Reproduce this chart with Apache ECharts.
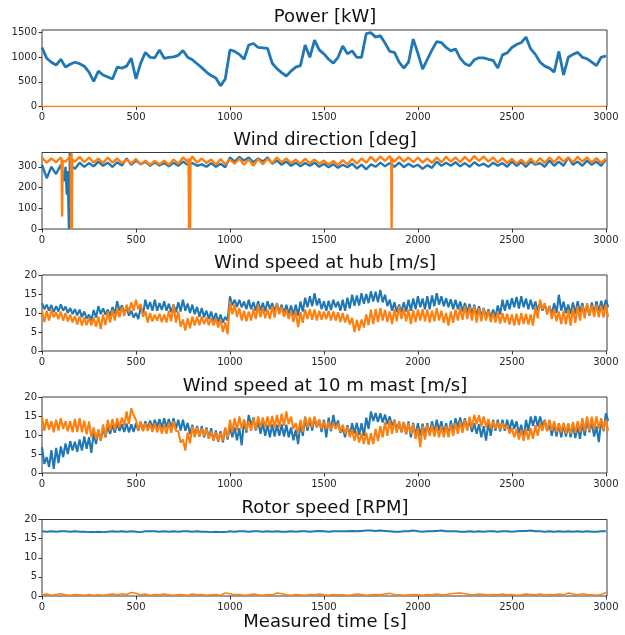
<!DOCTYPE html>
<html>
<head>
<meta charset="utf-8">
<script src="https://cdn.jsdelivr.net/npm/echarts@6/dist/echarts.min.js"></script>
<style>
html,body{margin:0;padding:0;background:#fff;}
#chart{width:625px;height:635px;}
</style>
</head>
<body>
<div id="chart"></div>
<script>
// ---------------- DATA ----------------
const STEP = 25;            // sampling step of the read-off series [s]
const HALF = STEP / 2;      // lower-edge readings sit half a step later
const time = Array.from({length: 121}, (_, i) => i * STEP);

const xTicks = [0, 500, 1000, 1500, 2000, 2500, 3000];
const titles = ['Power [kW]', 'Wind direction [deg]', 'Wind speed at hub [m/s]', 'Wind speed at 10 m mast [m/s]', 'Rotor speed [RPM]'];
const xLabel = 'Measured time [s]';
const yTicks = [[0, 500, 1000, 1500], [0, 100, 200, 300], [0, 5, 10, 15, 20], [0, 5, 10, 15, 20], [0, 5, 10, 15, 20]];
const yMax = [1555, 369, 20, 20, 20];

const powerBlue = [
 1200, 980, 900, 840, 960, 800, 860, 900,
 870, 820, 700, 510, 720, 640, 600, 560,
 800, 780, 820, 980, 560, 880, 1100, 1000,
 990, 1150, 980, 1000, 1010, 1040, 1140, 1000,
 950, 870, 790, 700, 630, 580, 420, 560,
 1150, 1120, 1060, 960, 1250, 1280, 1200, 1190,
 1180, 880, 770, 690, 620, 720, 800, 830,
 1250, 1000, 1350, 1150, 1070, 960, 880, 1000,
 1230, 1070, 1130, 1000, 1000, 1480, 1500, 1410,
 1440, 1290, 1120, 1100, 900, 780, 900, 1370,
 1080, 760, 960, 1150, 1320, 1300, 1200, 1130,
 1170, 980, 870, 830, 950, 990, 990, 960,
 940, 780, 1050, 1090, 1200, 1260, 1300, 1410,
 1170, 1060, 900, 820, 780, 700, 1120, 640,
 1000, 1060, 1100, 1000, 970, 900, 830, 1000,
 1030];
const powerOrangeT = [0, 3000];
const powerOrange = [0, 0];

const dirBlue = [
 310, 245, 300, 265, 310, 300, 300, 290,
 320, 300, 318, 302, 325, 305, 320, 300,
 322, 306, 340, 310, 330, 312, 325, 305,
 322, 306, 318, 302, 320, 305, 325, 310,
 318, 305, 312, 300, 318, 300, 315, 298,
 345, 325, 348, 330, 345, 322, 340, 325,
 345, 315, 330, 310, 325, 305, 320, 302,
 318, 305, 320, 300, 315, 298, 312, 295,
 310, 298, 315, 292, 310, 288, 312, 300,
 320, 302, 318, 300, 320, 298, 315, 300,
 310, 290, 308, 295, 325, 305, 320, 305,
 322, 302, 318, 300, 322, 305, 315, 300,
 320, 305, 318, 300, 325, 305, 322, 300,
 325, 310, 318, 300, 330, 305, 325, 305,
 345, 310, 325, 305, 330, 310, 325, 305,
 335];
const dirBlueExtraT = [120, 128, 132, 136, 140, 143, 146, 148, 151];
const dirBlueExtra  = [230, 300, 165, 280, 150, 10, 0, 368, 310];

const dirOrange = [
 345, 320, 340, 322, 345, 325, 350, 325,
 348, 322, 345, 320, 340, 318, 345, 320,
 340, 318, 335, 315, 338, 312, 330, 310,
 328, 312, 330, 310, 335, 315, 345, 325,
 350, 320, 340, 318, 335, 310, 338, 312,
 335, 315, 340, 310, 335, 305, 338, 312,
 340, 318, 345, 322, 340, 318, 335, 315,
 338, 318, 335, 315, 330, 310, 328, 308,
 332, 312, 338, 315, 340, 320, 348, 325,
 350, 328, 352, 325, 350, 325, 345, 322,
 345, 320, 340, 318, 345, 322, 348, 325,
 345, 322, 348, 325, 352, 328, 350, 325,
 345, 320, 342, 318, 338, 315, 335, 312,
 340, 315, 342, 318, 345, 322, 348, 325,
 345, 322, 348, 325, 345, 320, 342, 318,
 340];
const dirOrangeExtraT = [104, 107, 110, 153, 155, 157, 159, 161, 780, 782, 785, 788, 790, 1858, 1860, 1862];
const dirOrangeExtra  = [335, 60, 330, 340, 0, 368, 0, 335, 340, 0, 340, 0, 335, 340, 0, 340];

// wind speed at hub: upper / lower edge of the noisy trace
const hubBlueUp = [
 12.6, 12.2, 12.1, 11.8, 12.3, 11.7, 11.3, 11.0,
 10.9, 10.4, 9.6, 10.8, 11.8, 11.2, 10.9, 11.6,
 13.1, 12.0, 11.3, 10.6, 10.0, 11.5, 13.5, 12.9,
 13.5, 12.6, 13.1, 12.4, 12.2, 12.8, 13.5, 12.5,
 12.2, 11.6, 11.3, 10.6, 10.4, 10.0, 9.6, 9.0,
 14.4, 13.5, 13.5, 13.0, 13.5, 12.9, 13.1, 12.7,
 13.1, 12.6, 12.6, 12.2, 12.2, 12.0, 12.2, 13.0,
 14.0, 14.4, 15.2, 13.8, 13.1, 13.2, 13.5, 13.0,
 13.5, 14.0, 14.8, 14.6, 15.2, 15.0, 15.7, 15.6,
 16.1, 14.8, 13.5, 12.8, 12.2, 12.8, 13.5, 13.8,
 14.4, 13.8, 14.4, 14.6, 15.2, 14.4, 13.9, 13.6,
 13.5, 13.0, 12.6, 12.4, 12.2, 11.8, 11.3, 11.0,
 10.9, 12.0, 13.5, 13.4, 13.9, 14.2, 14.4, 13.8,
 13.5, 13.0, 12.6, 12.2, 11.8, 12.6, 14.8, 13.0,
 12.2, 12.8, 13.1, 12.6, 12.2, 12.8, 13.1, 13.2,
 13.5];
const hubBlueLo = [
 11.0, 10.6, 10.2, 10.4, 10.6, 10.0, 9.7, 9.4,
 8.9, 8.5, 8.0, 8.8, 9.7, 9.6, 9.3, 9.8,
 10.6, 10.0, 9.3, 8.8, 8.4, 9.6, 11.0, 10.6,
 10.6, 10.8, 10.6, 10.2, 10.2, 10.4, 10.6, 10.0,
 9.7, 9.0, 8.9, 8.4, 8.0, 7.6, 7.5, 8.0,
 12.0, 11.6, 11.5, 11.0, 11.0, 10.6, 10.6, 10.4,
 11.0, 10.4, 10.2, 9.8, 9.7, 9.4, 9.3, 10.4,
 11.5, 11.8, 12.0, 11.0, 10.6, 10.8, 11.5, 10.6,
 10.6, 11.2, 11.9, 12.0, 12.4, 12.6, 13.0, 12.8,
 12.8, 11.8, 10.6, 10.2, 10.2, 10.4, 10.6, 11.0,
 11.5, 11.0, 11.0, 11.8, 12.2, 11.8, 11.5, 11.0,
 11.0, 10.4, 10.2, 9.6, 9.3, 9.0, 8.9, 8.8,
 8.9, 9.6, 10.6, 11.0, 11.5, 11.2, 11.5, 11.0,
 11.0, 10.6, 10.6, 10.0, 9.7, 10.0, 10.6, 10.0,
 9.7, 9.8, 10.2, 9.6, 9.3, 9.8, 10.2, 10.8,
 11.5];
const hubOrangeUp = [
 10.8, 10.6, 10.9, 10.2, 10.4, 10.0, 9.6, 9.2,
 9.1, 8.8, 8.7, 8.8, 9.1, 9.6, 10.4, 10.8,
 11.3, 11.6, 12.2, 12.8, 13.5, 12.4, 10.4, 10.0,
 9.6, 9.8, 9.6, 10.6, 12.2, 10.4, 8.3, 8.6,
 9.1, 9.0, 9.1, 8.8, 8.7, 8.6, 8.3, 7.6,
 13.1, 12.2, 11.3, 10.6, 10.4, 11.2, 12.2, 11.4,
 10.9, 11.8, 12.6, 11.6, 10.9, 10.6, 10.4, 10.2,
 10.9, 11.0, 10.9, 10.6, 10.4, 10.6, 10.4, 10.2,
 10.0, 9.6, 8.7, 8.2, 8.3, 9.6, 10.9, 11.0,
 11.3, 10.8, 10.4, 11.0, 11.8, 11.2, 10.9, 10.8,
 10.9, 11.0, 10.9, 10.6, 11.3, 10.6, 10.0, 10.4,
 10.9, 11.4, 11.8, 11.6, 11.8, 11.2, 11.3, 10.6,
 10.0, 10.2, 10.0, 9.8, 9.6, 9.8, 10.0, 9.8,
 9.6, 11.6, 13.5, 12.6, 11.8, 11.0, 10.4, 10.6,
 10.9, 11.4, 11.8, 12.0, 12.6, 12.0, 12.2, 12.0,
 12.2];
const hubOrangeLo = [
 7.6, 8.0, 8.9, 8.4, 8.0, 7.8, 7.5, 7.0,
 6.7, 6.8, 6.7, 6.4, 5.8, 6.8, 7.5, 8.0,
 8.9, 9.2, 10.2, 10.6, 11.0, 9.0, 7.5, 7.8,
 8.0, 7.6, 7.5, 7.8, 7.5, 6.4, 5.4, 6.0,
 6.7, 6.8, 7.1, 6.8, 6.7, 6.2, 5.0, 4.4,
 9.7, 9.0, 8.0, 7.8, 8.0, 8.4, 8.9, 8.6,
 8.4, 8.8, 9.7, 9.0, 8.4, 7.6, 6.3, 7.4,
 8.4, 8.2, 8.0, 8.2, 8.4, 8.0, 8.0, 7.6,
 7.5, 7.0, 5.0, 5.4, 6.2, 6.8, 7.1, 7.6,
 8.0, 7.6, 7.1, 7.8, 8.4, 7.8, 7.1, 7.6,
 8.0, 7.8, 7.5, 7.8, 8.0, 7.4, 6.7, 7.4,
 8.0, 8.2, 8.4, 8.0, 7.5, 7.8, 8.0, 7.6,
 7.5, 7.2, 7.5, 7.0, 6.7, 6.8, 7.1, 7.0,
 6.7, 8.6, 11.0, 9.6, 8.4, 7.8, 7.1, 7.0,
 6.7, 7.4, 8.0, 8.6, 9.3, 9.0, 8.9, 8.8,
 8.9];

// wind speed at 10 m mast: upper / lower edge of the noisy trace
const mastBlueUp = [
 6.8, 4.2, 6.0, 6.6, 7.0, 7.8, 8.4, 8.2,
 8.8, 9.6, 9.4, 10.6, 11.4, 11.8, 12.3, 12.6,
 13.1, 12.8, 13.0, 12.8, 13.1, 13.4, 13.6, 13.8,
 14.0, 14.2, 14.4, 14.2, 14.4, 14.0, 14.0, 13.2,
 12.7, 12.4, 12.3, 12.0, 11.8, 11.2, 11.0, 11.8,
 12.3, 12.0, 11.8, 14.0, 15.3, 14.6, 13.6, 13.2,
 12.7, 12.8, 12.7, 12.8, 12.7, 12.0, 11.4, 13.0,
 14.4, 14.2, 14.4, 14.0, 14.0, 14.6, 15.3, 13.8,
 11.8, 12.6, 13.1, 13.2, 13.1, 14.6, 16.2, 15.8,
 15.7, 15.4, 14.9, 14.0, 13.1, 13.4, 13.6, 13.2,
 13.1, 13.0, 13.1, 13.6, 14.0, 13.6, 13.1, 13.8,
 14.4, 14.6, 14.4, 13.8, 13.1, 12.8, 12.3, 13.2,
 14.0, 14.0, 14.0, 14.0, 14.0, 13.6, 12.7, 14.0,
 14.9, 15.0, 14.9, 14.0, 12.7, 13.0, 13.1, 12.8,
 12.7, 12.6, 12.3, 13.2, 14.0, 13.4, 12.3, 14.0,
 15.7];
const mastBlueLo = [
 2.4, 1.6, 1.1, 2.6, 4.2, 5.0, 5.9, 5.6,
 5.9, 6.4, 5.3, 7.6, 8.5, 9.4, 10.3, 10.6,
 11.1, 10.8, 10.7, 10.8, 11.1, 11.2, 11.6, 11.8,
 12.0, 11.8, 12.0, 11.8, 11.6, 11.2, 11.1, 10.2,
 9.8, 9.6, 9.4, 9.0, 8.5, 8.2, 8.1, 8.8,
 9.4, 8.6, 7.3, 10.6, 12.4, 11.2, 10.3, 9.8,
 9.4, 9.6, 9.8, 9.6, 9.4, 8.6, 7.6, 9.8,
 11.1, 11.2, 12.0, 10.8, 9.4, 11.0, 12.0, 10.6,
 9.4, 9.8, 10.3, 10.0, 9.8, 11.6, 13.7, 13.4,
 13.3, 12.8, 12.4, 11.4, 10.7, 10.2, 9.4, 9.8,
 9.8, 9.8, 10.3, 10.6, 11.1, 10.4, 9.8, 10.6,
 12.0, 11.8, 11.6, 10.8, 10.3, 9.4, 8.5, 9.8,
 11.1, 11.0, 11.1, 11.2, 11.6, 10.4, 9.0, 11.0,
 12.4, 12.2, 12.4, 11.2, 9.8, 9.6, 9.4, 9.6,
 9.4, 9.2, 9.0, 9.8, 10.7, 9.6, 8.1, 11.0,
 13.7];
const mastOrangeUp = [
 14.8, 14.2, 13.6, 14.0, 14.4, 13.6, 13.6, 14.2,
 14.4, 13.8, 13.6, 12.0, 11.4, 12.8, 14.0, 14.2,
 14.4, 14.6, 16.2, 17.0, 14.0, 13.6, 13.1, 13.0,
 13.1, 12.8, 12.7, 13.2, 13.6, 11.0, 8.8, 10.6,
 12.3, 12.0, 11.8, 11.6, 11.0, 10.8, 10.5, 12.0,
 14.0, 14.4, 14.9, 14.0, 13.6, 14.4, 14.9, 14.6,
 14.9, 15.0, 15.3, 15.6, 16.2, 14.8, 13.1, 14.0,
 14.9, 14.6, 14.9, 14.0, 13.6, 13.4, 13.1, 13.0,
 12.7, 12.2, 11.4, 11.0, 10.5, 10.6, 10.5, 11.6,
 12.3, 13.4, 14.0, 13.8, 13.6, 13.4, 13.1, 12.8,
 11.8, 12.4, 12.7, 12.6, 12.3, 12.4, 12.3, 12.8,
 13.1, 13.6, 14.0, 14.8, 15.3, 15.2, 14.9, 14.2,
 13.6, 13.4, 13.1, 12.6, 11.8, 11.6, 11.4, 11.6,
 11.8, 12.6, 13.1, 13.8, 14.0, 13.6, 13.1, 13.2,
 13.1, 13.4, 13.6, 14.4, 14.9, 14.8, 14.9, 14.4,
 14.0];
const mastOrangeLo = [
 11.1, 11.4, 10.7, 11.2, 11.6, 11.0, 10.7, 10.8,
 10.7, 10.2, 9.4, 8.8, 8.5, 9.6, 11.1, 11.4,
 12.0, 12.4, 12.9, 15.2, 11.1, 11.0, 11.1, 10.8,
 10.7, 10.4, 10.3, 10.6, 11.1, 8.0, 5.9, 7.8,
 9.4, 9.6, 9.8, 9.0, 8.5, 8.4, 8.5, 9.2,
 10.7, 11.2, 11.6, 11.2, 11.1, 11.4, 12.0, 12.0,
 12.0, 11.8, 12.0, 12.4, 12.9, 11.6, 10.3, 10.8,
 12.0, 12.0, 12.0, 11.6, 11.6, 11.4, 11.6, 10.8,
 10.3, 9.4, 8.5, 8.0, 7.6, 7.4, 7.6, 8.4,
 9.4, 9.8, 10.3, 10.6, 10.7, 10.4, 10.3, 9.0,
 6.8, 8.8, 9.8, 9.6, 9.4, 9.4, 9.4, 9.8,
 10.3, 10.6, 11.1, 11.8, 12.8, 12.2, 12.0, 11.6,
 11.6, 11.4, 11.6, 10.4, 9.4, 8.8, 8.5, 8.8,
 9.0, 9.8, 11.1, 11.0, 11.1, 10.8, 10.7, 10.4,
 10.3, 10.6, 10.7, 11.0, 11.1, 11.4, 11.6, 11.2,
 11.1];

const rotorBlue = [
 16.9, 16.8, 16.9, 16.8, 16.9, 16.9, 16.8, 16.9,
 16.8, 16.8, 16.7, 16.7, 16.8, 16.7, 16.8, 16.9,
 16.8, 16.9, 16.8, 16.9, 16.8, 16.7, 16.9, 16.9,
 16.9, 16.8, 16.9, 16.8, 16.9, 16.8, 16.9, 16.9,
 16.8, 16.9, 16.8, 16.8, 16.7, 16.8, 16.7, 16.7,
 16.9, 16.8, 16.9, 16.9, 16.8, 16.9, 16.9, 16.8,
 16.9, 16.8, 16.9, 16.8, 16.8, 16.9, 16.8, 16.9,
 16.9, 16.8, 16.9, 17.0, 16.9, 16.8, 16.9, 16.9,
 16.9, 16.9, 17.0, 16.9, 17.0, 17.1, 17.1, 17.0,
 17.1, 17.0, 16.9, 16.8, 16.8, 16.9, 16.9, 17.1,
 16.9, 16.8, 16.9, 16.9, 17.0, 17.1, 16.9, 16.9,
 16.9, 16.8, 16.8, 16.9, 16.8, 16.9, 16.8, 16.9,
 16.9, 16.8, 16.9, 16.9, 16.8, 16.9, 17.0, 17.0,
 17.1, 16.9, 16.9, 16.8, 16.9, 16.8, 16.9, 16.8,
 16.9, 16.8, 16.9, 16.8, 16.9, 16.8, 16.8, 16.9,
 16.9];
const rotorOrange = [
 0.3, 0.5, 0.2, 0.4, 0.6, 0.3, 0.2, 0.4,
 0.3, 0.2, 0.4, 0.2, 0.3, 0.2, 0.4, 0.5,
 0.3, 0.6, 0.4, 0.9, 0.7, 0.3, 0.5, 0.2,
 0.4, 0.3, 0.5, 0.3, 0.2, 0.4, 0.3, 0.2,
 0.5, 0.3, 0.4, 0.2, 0.3, 0.4, 0.2, 0.8,
 0.6, 0.3, 0.4, 0.2, 0.3, 0.5, 0.3, 0.2,
 0.4, 0.3, 0.8, 0.6, 0.3, 0.2, 0.4, 0.3,
 0.2, 0.4, 0.3, 0.5, 0.3, 0.2, 0.4, 0.3,
 0.3, 0.2, 0.3, 0.5, 0.4, 0.2, 0.3, 0.4,
 0.3, 0.5, 0.7, 0.4, 0.3, 0.2, 0.3, 0.4,
 0.3, 0.2, 0.4, 0.3, 0.5, 0.3, 0.4, 0.6,
 0.7, 0.8, 0.6, 0.4, 0.3, 0.5, 0.4, 0.3,
 0.4, 0.3, 0.5, 0.3, 0.4, 0.2, 0.3, 0.5,
 0.4, 0.3, 0.5, 0.3, 0.4, 0.3, 0.5, 0.3,
 0.8, 0.5, 0.3, 0.6, 0.4, 0.3, 0.2, 0.4,
 0.9];

// ---------------- CHART ----------------
[powerBlue, dirBlue, dirOrange, hubBlueUp, hubBlueLo, hubOrangeUp, hubOrangeLo,
 mastBlueUp, mastBlueLo, mastOrangeUp, mastOrangeLo, rotorBlue, rotorOrange].forEach((a, i) => {
  if (a.length !== time.length) throw new Error('array ' + i + ' has length ' + a.length);
});

const BLUE = '#1f77b4', ORANGE = '#ff7f0e';
const FONT = 'DejaVu Sans';
const X_MAX = 3006;
const gridTops = [30, 152.5, 275, 397, 519.5];
const gridHeights = [76.5, 76.5, 76, 76, 76.5];
const titleY = [17, 140, 263, 386.5, 508];

function pairs(t, v) { return t.map((x, i) => [x, v[i]]); }
function merged(t, v, et, ev) { return pairs(t, v).concat(pairs(et, ev)).sort((a, b) => a[0] - b[0]); }
function edges(t, up, lo) {
  const out = [];
  t.forEach((x, i) => { out.push([x, up[i]]); out.push([x + HALF, lo[i]]); });
  return out;
}
const plain = v => String(v);

const grids = [], xAxes = [], yAxes = [], graphics = [];
for (let i = 0; i < 5; i++) {
  grids.push({left: 42, width: 565, top: gridTops[i], height: gridHeights[i], show: true,
    borderColor: '#3a3a3a', borderWidth: 1, backgroundColor: 'transparent'});
  xAxes.push({type: 'value', gridIndex: i, min: 0, max: X_MAX,
    axisLine: {show: false},
    axisTick: {show: true, length: 3.5, inside: false, customValues: xTicks, lineStyle: {color: '#333', width: 1}},
    axisLabel: {show: true, customValues: xTicks, formatter: plain, fontSize: 10, color: '#262626', fontFamily: FONT, margin: 6},
    splitLine: {show: false}});
  yAxes.push({type: 'value', gridIndex: i, min: 0, max: yMax[i],
    axisLine: {show: false},
    axisTick: {show: true, length: 3.5, inside: false, customValues: yTicks[i], lineStyle: {color: '#333', width: 1}},
    axisLabel: {show: true, customValues: yTicks[i], formatter: plain, fontSize: 10, color: '#262626', fontFamily: FONT, margin: 5},
    splitLine: {show: false}});
  graphics.push({type: 'text', x: 325, y: titleY[i], silent: true,
    style: {text: titles[i], font: '18px "DejaVu Sans"', fill: '#111', textAlign: 'center', textVerticalAlign: 'middle'}});
}
graphics.push({type: 'text', x: 325, y: 622, silent: true,
  style: {text: xLabel, font: '18px "DejaVu Sans"', fill: '#111', textAlign: 'center', textVerticalAlign: 'middle'}});

function line(idx, data, color, width) {
  return {type: 'line', xAxisIndex: idx, yAxisIndex: idx, data: data, showSymbol: false, symbol: 'none',
    lineStyle: {color: color, width: width || 1.5, join: 'bevel'}, itemStyle: {color: color}, animation: false, clip: true,
    emphasis: {disabled: true}};
}

const series = [
  line(0, pairs(time, powerBlue), BLUE, 2.8),
  line(0, pairs(powerOrangeT, powerOrange), ORANGE, 1.5),
  line(1, merged(time, dirBlue, dirBlueExtraT, dirBlueExtra), BLUE, 2.4),
  line(1, merged(time, dirOrange, dirOrangeExtraT, dirOrangeExtra), ORANGE, 2.4),
  line(2, edges(time, hubBlueUp, hubBlueLo), BLUE, 2.1),
  line(2, edges(time, hubOrangeUp, hubOrangeLo), ORANGE, 2.1),
  line(3, edges(time, mastBlueUp, mastBlueLo), BLUE, 2.1),
  line(3, edges(time, mastOrangeUp, mastOrangeLo), ORANGE, 2.1),
  line(4, pairs(time, rotorBlue), BLUE, 2),
  line(4, pairs(time, rotorOrange), ORANGE, 1.5)
];

const chart = echarts.init(document.getElementById('chart'), null, {renderer: 'canvas'});
chart.setOption({
  animation: false,
  backgroundColor: '#ffffff',
  textStyle: {fontFamily: FONT},
  grid: grids, xAxis: xAxes, yAxis: yAxes, series: series, graphic: graphics
});
</script>
</body>
</html>
